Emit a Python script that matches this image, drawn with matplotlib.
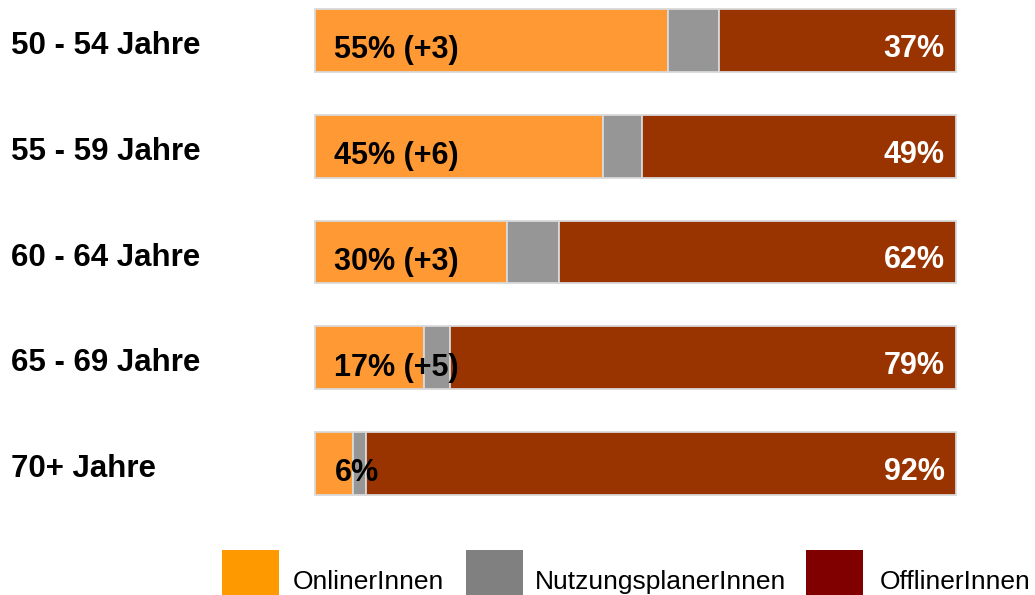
import matplotlib
matplotlib.use('agg')
import matplotlib.pyplot as plt
from matplotlib.patches import Rectangle
import numpy as np

plt.rcParams['font.family'] = ['Liberation Sans', 'DejaVu Sans']

# data
groups = ['50 - 54 Jahre', '55 - 59 Jahre', '60 - 64 Jahre', '65 - 69 Jahre', '70+ Jahre']
online = [55, 45, 30, 17, 6]
offline = [37, 49, 62, 79, 92]
planer = [100 - a - b for a, b in zip(online, offline)]
online_labels = ['55% (+3)', '45% (+6)', '30% (+3)', '17% (+5)', '6%']
offline_labels = ['37%', '49%', '62%', '79%', '92%']
legend_names = ['OnlinerInnen', 'NutzungsplanerInnen', 'OfflinerInnen']

bar_cols = ['#ff9933', '#969696', '#993300']
leg_cols = ['#ff9900', '#808080', '#800000']

W, H = 1035, 595
fig = plt.figure(figsize=(W / 100, H / 100), dpi=100)
ax = fig.add_axes([315 / W, 1 - 495 / H, (956 - 315) / W, (495 - 9) / H])

y = np.arange(len(groups))
bh = 0.594
left = np.zeros(len(groups))
for vals, col in zip([online, planer, offline], bar_cols):
    ax.barh(y, vals, left=left, height=bh, color=col, edgecolor='#d9d9d9',
            linewidth=1.3, clip_on=False)
    left += np.array(vals)

ax.set_xlim(0, 100)
ax.set_ylim(len(groups) - 1 + bh / 2, -bh / 2)
ax.axis('off')

# value labels (slightly below bar centre, like the original)
for i in range(len(groups)):
    ax.annotate(online_labels[i], (0, y[i]), xytext=(14, -7), textcoords='offset points',
                ha='left', va='center', fontsize=22, fontweight='bold', color='black')
    ax.annotate(offline_labels[i], (100, y[i]), xytext=(-8, -6), textcoords='offset points',
                ha='right', va='center', fontsize=22, fontweight='bold', color='white')
    ax.annotate(groups[i], (0, y[i]), xycoords=('figure fraction', 'data'),
                xytext=(8, -4), textcoords='offset points', ha='left', va='center',
                fontsize=22.5, fontweight='bold', color='black')

# legend drawn by hand, squares run off the bottom edge
sq_x = [222, 466, 806]
txt_x = [293, 535, 880]
for sx, tx, col, name in zip(sq_x, txt_x, leg_cols, legend_names):
    fig.add_artist(Rectangle((sx / W, 0), 57 / W, 45 / H, transform=fig.transFigure,
                             facecolor=col, edgecolor='none'))
    fig.text(tx / W, 1 - 589 / H, name, ha='left', va='baseline', fontsize=19)

fig.savefig('out.png', dpi=100)
